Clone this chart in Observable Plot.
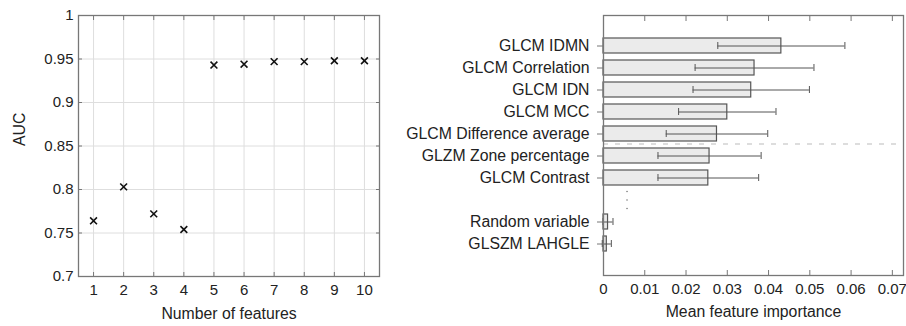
<!DOCTYPE html>
<html>
<head>
<meta charset="utf-8">
<script src="https://cdn.jsdelivr.net/npm/d3@7"></script>
<script src="https://cdn.jsdelivr.net/npm/@observablehq/plot@0.6"></script>
<style>
  html, body { margin: 0; padding: 0; background: #fff; }
  #wrap { position: relative; width: 906px; height: 326px; overflow: hidden; }
  #left, #right { position: absolute; top: 0; }
  #left { left: 0; }
  #right { left: 390px; }
</style>
</head>
<body>
<div id="wrap"><div id="left"></div><div id="right"></div></div>
<script>
// ---- Left chart data ----
const nFeatures = [1, 2, 3, 4, 5, 6, 7, 8, 9, 10];
const auc = [0.764, 0.803, 0.772, 0.754, 0.943, 0.944, 0.947, 0.947, 0.948, 0.948];
const aucTicks = [0.7, 0.75, 0.8, 0.85, 0.9, 0.95, 1];

// ---- Right chart data ----
const features = ["GLCM IDMN", "GLCM Correlation", "GLCM IDN", "GLCM MCC",
  "GLCM Difference average", "GLZM Zone percentage", "GLCM Contrast",
  "Random variable", "GLSZM LAHGLE"];
const importance = [0.0431, 0.0366, 0.0358, 0.0300, 0.0275, 0.0257, 0.0254, 0.0011, 0.0008];
const importanceStd = [0.0154, 0.0144, 0.0141, 0.0118, 0.0123, 0.0125, 0.0122, 0.0012, 0.0011];
const importanceTicks = [0, 0.01, 0.02, 0.03, 0.04, 0.05, 0.06, 0.07];
const gapRow = "\u2026";            // elided rows between the top 7 and the last 2
const gapX = 0.0057;                 // where the vertical ellipsis sits
const separatorBefore = "GLZM Zone percentage";

const font = {fontFamily: "'Liberation Sans', Arial, Helvetica, sans-serif", fontSize: "15.8px", color: "#222", background: "transparent"};
const tickFont = 15;
const frameColor = "#777";
const gridColor = "#dedede";

// ---- Left chart ----
const aucData = nFeatures.map((n, i) => ({n, auc: auc[i]}));
const left = Plot.plot({
  width: 390, height: 326,
  marginLeft: 78, marginRight: 11, marginTop: 15, marginBottom: 50,
  style: font,
  x: {domain: [0.5, 10.5]},
  y: {domain: [0.7, 1]},
  marks: [
    Plot.gridX(nFeatures, {stroke: gridColor, strokeOpacity: 1}),
    Plot.gridY(aucTicks, {stroke: gridColor, strokeOpacity: 1}),
    Plot.axisX(nFeatures, {anchor: "bottom", tickSize: -4, fill: "none", stroke: frameColor, label: null}),
    Plot.axisX(nFeatures, {anchor: "top", tickSize: -4, fill: "none", stroke: frameColor, label: null}),
    Plot.axisY(aucTicks, {anchor: "left", tickSize: -4, fill: "none", stroke: frameColor, label: null}),
    Plot.axisY(aucTicks, {anchor: "right", tickSize: -4, fill: "none", stroke: frameColor, label: null}),
    Plot.axisX(nFeatures, {anchor: "bottom", tickSize: 0, tickPadding: 8, label: null, fontSize: tickFont, tickFormat: d => String(d)}),
    Plot.axisY(aucTicks, {anchor: "left", tickSize: 0, tickPadding: 5, label: null, fontSize: tickFont, tickFormat: d => String(d)}),
    Plot.frame({stroke: frameColor, strokeWidth: 1.3}),
    Plot.dot(aucData, {x: "n", y: "auc", symbol: "times", r: 3.2, stroke: "#111", strokeWidth: 1.6}),
    Plot.text(["Number of features"], {frameAnchor: "bottom", dy: 42, fill: "#222"}),
    Plot.text(["AUC"], {frameAnchor: "left", dx: -59, rotate: -90, fill: "#222"})
  ]
});
document.getElementById("left").appendChild(left);

// ---- Right chart ----
const impData = features.map((name, i) => ({name, v: importance[i], s: importanceStd[i]}));
const yDomain = [...features.slice(0, 7), gapRow, ...features.slice(7)];
const right = Plot.plot({
  width: 516, height: 326,
  marginLeft: 213, marginRight: 3, marginTop: 15, marginBottom: 51,
  style: font,
  x: {domain: [0, 0.0727]},
  y: {type: "band", domain: yDomain, paddingInner: 0.31, paddingOuter: 0.985},
  marks: [
    Plot.barX(impData, {x: "v", y: "name", fill: "#ebebeb", stroke: "#555", strokeWidth: 1.2}),
    Plot.ruleY(impData, {y: "name", x1: d => d.v - d.s, x2: d => d.v + d.s, stroke: "#555", strokeWidth: 1}),
    Plot.tickX(impData, {x: d => d.v - d.s, y: "name", stroke: "#555", strokeWidth: 1, insetTop: 4, insetBottom: 4}),
    Plot.tickX(impData, {x: d => d.v + d.s, y: "name", stroke: "#555", strokeWidth: 1, insetTop: 4, insetBottom: 4}),
    Plot.ruleY([separatorBefore], {y: d => d, dy: -12, stroke: "#bbb", strokeWidth: 1.2, strokeDasharray: "5,7"}),
    Plot.dot([gapRow], {x: () => gapX, y: d => d, r: 0.8, fill: "#777", stroke: "none", dy: -8.5}),
    Plot.dot([gapRow], {x: () => gapX, y: d => d, r: 0.8, fill: "#777", stroke: "none"}),
    Plot.dot([gapRow], {x: () => gapX, y: d => d, r: 0.8, fill: "#777", stroke: "none", dy: 8.5}),
    Plot.axisX(importanceTicks, {anchor: "bottom", tickSize: -5, fill: "none", stroke: frameColor, label: null}),
    Plot.axisX(importanceTicks, {anchor: "top", tickSize: -5, fill: "none", stroke: frameColor, label: null}),
    Plot.axisX(importanceTicks, {anchor: "bottom", tickSize: 0, tickPadding: 7.5, label: null, fontSize: tickFont, tickFormat: d => String(d)}),
    Plot.axisY(features, {anchor: "left", tickSize: 6, tickPadding: 8, stroke: frameColor, label: null}),
    Plot.frame({stroke: frameColor, strokeWidth: 1.3}),
    Plot.text(["Mean feature importance"], {frameAnchor: "bottom", dy: 41, fill: "#222"})
  ]
});
document.getElementById("right").appendChild(right);
</script>
</body>
</html>
